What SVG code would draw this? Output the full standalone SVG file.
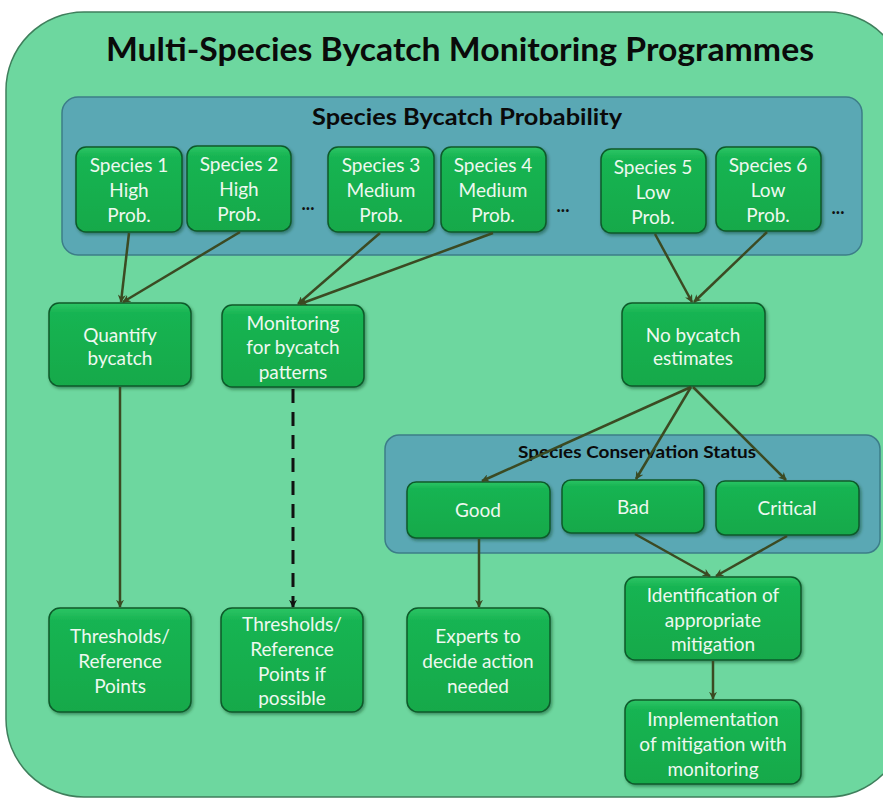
<svg xmlns="http://www.w3.org/2000/svg" width="883" height="800" viewBox="0 0 883 800">
  <defs>
    <linearGradient id="boxFill" x1="0" y1="0" x2="0" y2="1">
      <stop offset="0" stop-color="#2cc565"/>
      <stop offset="0.12" stop-color="#18b452"/>
      <stop offset="1" stop-color="#13a94a"/>
    </linearGradient>
    <filter id="shadow" x="-10%" y="-10%" width="130%" height="130%">
      <feDropShadow dx="1.5" dy="2" stdDeviation="1.5" flood-color="#0b3b1c" flood-opacity="0.45"/>
    </filter>
    <marker id="arrow" viewBox="0 0 10 10" refX="9" refY="5" markerWidth="8" markerHeight="8" orient="auto" markerUnits="userSpaceOnUse">
      <path d="M0,0 L10,5 L0,10 L3,5 Z" fill="#3b4a22"/>
    </marker>
    <marker id="arrowBlack" viewBox="0 0 10 10" refX="9" refY="5" markerWidth="8" markerHeight="8" orient="auto" markerUnits="userSpaceOnUse">
      <path d="M0,0 L10,5 L0,10 L3,5 Z" fill="#111"/>
    </marker>
  </defs>
  <style>
    .outer { fill: #6dd79f; stroke: #3f7f5c; stroke-width: 1.5; }
    .panel { fill: #5aa8b4; stroke: #3c7d88; stroke-width: 1.5; }
    .box { fill: url(#boxFill); stroke: #0d5a2a; stroke-width: 1.5; filter: url(#shadow); }
    .lbl { font-family: Lato, "Open Sans", "Liberation Sans", sans-serif; font-size: 19px; fill: #eef8f0; text-anchor: middle; }
    .title { font-family: Lato, "Open Sans", "Liberation Sans", sans-serif; font-weight: bold; fill: #0a0a0a; text-anchor: middle; }
    .dots { font-family: Lato, "Liberation Sans", sans-serif; font-weight: bold; font-size: 18px; fill: #111; text-anchor: middle; }
    .conn { stroke: #3b4a22; stroke-width: 2.5; fill: none; marker-end: url(#arrow); }
    .dash { stroke: #111; stroke-width: 3; stroke-dasharray: 14 9; fill: none; marker-end: url(#arrowBlack); }
  </style>

  <!-- programme frame -->
  <rect class="outer" x="6" y="12" width="900" height="785" rx="78" ry="78"/>
  <text class="title" x="460" y="61" font-size="32" textLength="708" lengthAdjust="spacingAndGlyphs">Multi-Species Bycatch Monitoring Programmes</text>

  <!-- probability panel -->
  <g id="probability-panel">
    <rect class="panel" x="62" y="97" width="800" height="158" rx="16"/>
    <text class="title" x="467" y="125" font-size="22" textLength="310" lengthAdjust="spacingAndGlyphs">Species Bycatch Probability</text>
  </g>

  <g id="species1">
    <rect class="box" x="76" y="147" width="106" height="85" rx="10"/>
    <text class="lbl" x="129" y="172">Species 1</text>
    <text class="lbl" x="129" y="197">High</text>
    <text class="lbl" x="129" y="222">Prob.</text>
  </g>
  <g id="species2">
    <rect class="box" x="187" y="146" width="104" height="85" rx="10"/>
    <text class="lbl" x="239" y="171">Species 2</text>
    <text class="lbl" x="239" y="196">High</text>
    <text class="lbl" x="239" y="221">Prob.</text>
  </g>
  <text class="dots" x="308" y="210">...</text>
  <g id="species3">
    <rect class="box" x="328" y="147" width="106" height="85" rx="10"/>
    <text class="lbl" x="381" y="172">Species 3</text>
    <text class="lbl" x="381" y="197">Medium</text>
    <text class="lbl" x="381" y="222">Prob.</text>
  </g>
  <g id="species4">
    <rect class="box" x="441" y="147" width="105" height="85" rx="10"/>
    <text class="lbl" x="493" y="172">Species 4</text>
    <text class="lbl" x="493" y="197">Medium</text>
    <text class="lbl" x="493" y="222">Prob.</text>
  </g>
  <text class="dots" x="563" y="212">...</text>
  <g id="species5">
    <rect class="box" x="601" y="149" width="105" height="84" rx="10"/>
    <text class="lbl" x="653" y="174">Species 5</text>
    <text class="lbl" x="653" y="199">Low</text>
    <text class="lbl" x="653" y="224">Prob.</text>
  </g>
  <g id="species6">
    <rect class="box" x="716" y="147" width="105" height="84" rx="10"/>
    <text class="lbl" x="768" y="172">Species 6</text>
    <text class="lbl" x="768" y="197">Low</text>
    <text class="lbl" x="768" y="222">Prob.</text>
  </g>
  <text class="dots" x="838" y="214">...</text>

  <!-- middle row -->
  <g id="quantify">
    <rect class="box" x="49" y="303" width="142" height="83" rx="10"/>
    <text class="lbl" x="120" y="342">Quantify</text>
    <text class="lbl" x="120" y="365">bycatch</text>
  </g>
  <g id="monitoring">
    <rect class="box" x="222" y="305" width="142" height="82" rx="10"/>
    <text class="lbl" x="293" y="330">Monitoring</text>
    <text class="lbl" x="293" y="354">for bycatch</text>
    <text class="lbl" x="293" y="379">patterns</text>
  </g>
  <g id="no-estimates">
    <rect class="box" x="622" y="303" width="143" height="83" rx="10"/>
    <text class="lbl" x="693" y="342">No bycatch</text>
    <text class="lbl" x="693" y="365">estimates</text>
  </g>

  <!-- conservation status panel -->
  <g id="status-panel">
    <rect class="panel" x="385" y="435" width="495" height="118" rx="14"/>
    <text class="title" x="637" y="458" font-size="17" textLength="238" lengthAdjust="spacingAndGlyphs">Species Conservation Status</text>
  </g>
  <g id="good">
    <rect class="box" x="407" y="482" width="143" height="56" rx="9"/>
    <text class="lbl" x="478" y="517">Good</text>
  </g>
  <g id="bad">
    <rect class="box" x="562" y="480" width="142" height="53" rx="9"/>
    <text class="lbl" x="633" y="514">Bad</text>
  </g>
  <g id="critical">
    <rect class="box" x="716" y="481" width="143" height="54" rx="9"/>
    <text class="lbl" x="787" y="515">Critical</text>
  </g>

  <!-- bottom row -->
  <g id="thresholds">
    <rect class="box" x="49" y="608" width="142" height="104" rx="11"/>
    <text class="lbl" x="120" y="643">Thresholds/</text>
    <text class="lbl" x="120" y="668">Reference</text>
    <text class="lbl" x="120" y="693">Points</text>
  </g>
  <g id="thresholds-possible">
    <rect class="box" x="221" y="608" width="142" height="104" rx="11"/>
    <text class="lbl" x="292" y="631">Thresholds/</text>
    <text class="lbl" x="292" y="656">Reference</text>
    <text class="lbl" x="292" y="681">Points if</text>
    <text class="lbl" x="292" y="705">possible</text>
  </g>
  <g id="experts">
    <rect class="box" x="407" y="608" width="143" height="104" rx="11"/>
    <text class="lbl" x="478" y="643">Experts to</text>
    <text class="lbl" x="478" y="668">decide action</text>
    <text class="lbl" x="478" y="693">needed</text>
  </g>
  <g id="identification">
    <rect class="box" x="625" y="577" width="176" height="83" rx="10"/>
    <text class="lbl" x="713" y="602">Identification of</text>
    <text class="lbl" x="713" y="627">appropriate</text>
    <text class="lbl" x="713" y="651">mitigation</text>
  </g>
  <g id="implementation">
    <rect class="box" x="625" y="700" width="176" height="84" rx="10"/>
    <text class="lbl" x="713" y="726">Implementation</text>
    <text class="lbl" x="713" y="751">of mitigation with</text>
    <text class="lbl" x="713" y="776">monitoring</text>
  </g>

  <!-- connectors -->
  <g id="connectors">
    <line class="conn" x1="129" y1="233" x2="121" y2="302"/>
    <line class="conn" x1="240" y1="232" x2="123" y2="302"/>
    <line class="conn" x1="380" y1="233" x2="298" y2="304"/>
    <line class="conn" x1="493" y1="233" x2="300" y2="304"/>
    <line class="conn" x1="655" y1="234" x2="692" y2="302"/>
    <line class="conn" x1="767" y1="232" x2="694" y2="302"/>
    <line class="conn" x1="120" y1="387" x2="120" y2="607"/>
    <line class="dash" x1="293" y1="389" x2="293" y2="607"/>
    <line class="conn" x1="691" y1="387" x2="482" y2="481"/>
    <line class="conn" x1="691" y1="387" x2="636" y2="479"/>
    <line class="conn" x1="693" y1="387" x2="786" y2="480"/>
    <line class="conn" x1="479" y1="539" x2="479" y2="607"/>
    <line class="conn" x1="635" y1="534" x2="710" y2="576"/>
    <line class="conn" x1="787" y1="536" x2="716" y2="576"/>
    <line class="conn" x1="713" y1="661" x2="713" y2="699"/>
  </g>
</svg>
